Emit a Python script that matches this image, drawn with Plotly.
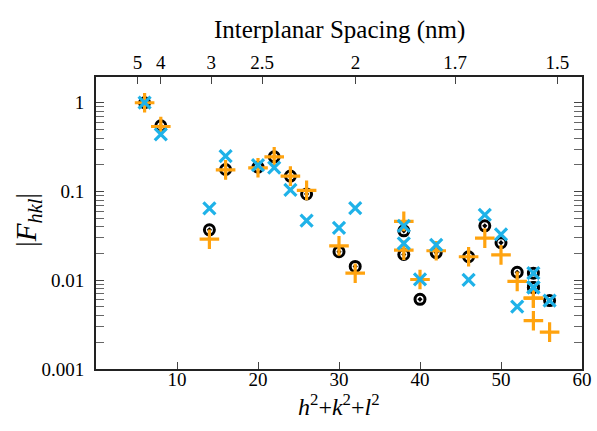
import plotly.graph_objects as go

# h^2+k^2+l^2 of each reflection
hkl_sum = [6, 8, 14, 16, 20, 22, 24, 26, 30, 32, 38, 38, 40, 42, 46, 48, 50, 52, 54, 54, 54, 56]

# |F_hkl| for the three data sets
f_black = [1.0, 0.55, 0.037, 0.177, 0.188, 0.246, 0.149, 0.094, 0.021, 0.0143, 0.036, 0.0195,
           0.0061, 0.0205, 0.0184, 0.041, 0.0265, 0.0123, 0.012, 0.0083, 0.0083, 0.0059]
f_orange = [1.0, 0.54, 0.029, 0.175, 0.185, 0.246, 0.149, 0.103, 0.0244, 0.012, 0.046, 0.0218,
            0.0102, 0.0215, 0.0184, 0.0298, 0.0193, 0.0097, 0.0063, 0.0063, 0.0035, 0.0026]
f_blue = [1.0, 0.44, 0.0645, 0.25, 0.198, 0.186, 0.104, 0.047, 0.039, 0.065, 0.041, 0.026,
          0.0102, 0.025, 0.0101, 0.0546, 0.0329, 0.00505, 0.012, 0.0083, 0.0083, 0.0059]

# top axis: interplanar spacing d = a / sqrt(h^2+k^2+l^2)
lattice_a = 11.32  # nm
d_ticks = [5, 4, 3, 2.5, 2, 1.7, 1.5]
d_labels = ["5", "4", "3", "2.5", "2", "1.7", "1.5"]

x_ticks = [10, 20, 30, 40, 50, 60]
y_ticks = [1, 0.1, 0.01, 0.001]
y_labels = ["1", "0.1", "0.01", "0.001"]

BLACK = "#000000"
ORANGE = "#FFA30F"
BLUE = "#1FB2E8"
FONT = "Liberation Serif"

fig = go.Figure()
fig.add_trace(go.Scatter(
    x=hkl_sum, y=f_black, mode="markers",
    marker=dict(symbol="circle-open-dot", size=10, color=BLACK, line=dict(width=3, color=BLACK)),
    showlegend=False))
fig.add_trace(go.Scatter(
    x=hkl_sum, y=f_orange, mode="markers",
    marker=dict(symbol="cross-thin", size=14, color=ORANGE, line=dict(width=3.2, color=ORANGE)),
    showlegend=False))
fig.add_trace(go.Scatter(
    x=hkl_sum, y=f_blue, mode="markers",
    marker=dict(symbol="x-thin", size=12, color=BLUE, line=dict(width=3.2, color=BLUE)),
    showlegend=False))
# empty trace to anchor the top axis
fig.add_trace(go.Scatter(x=[], y=[], xaxis="x2", yaxis="y", showlegend=False))

top_vals = [(lattice_a / d) ** 2 for d in d_ticks]

fig.update_layout(
    width=597, height=431,
    margin=dict(l=96, r=15, t=77, b=62),
    paper_bgcolor="white", plot_bgcolor="white",
    font=dict(family=FONT, size=19, color="black"),
    xaxis=dict(
        range=[0, 60], tickvals=x_ticks, automargin=False,
        ticks="inside", ticklen=7, tickwidth=1, tickcolor="#444",
        showline=True, linecolor="#222", linewidth=2, mirror=True,
        showgrid=False, zeroline=False, ticklabelstandoff=-8,
        tickfont=dict(family=FONT, size=19),
    ),
    xaxis2=dict(
        range=[0, 60], overlaying="x", side="top", automargin=False,
        tickvals=top_vals, ticktext=d_labels,
        ticks="inside", ticklen=7, tickwidth=1, tickcolor="#444",
        showline=False, showgrid=False, zeroline=False, ticklabelstandoff=3,
        tickfont=dict(family=FONT, size=19),
    ),
    yaxis=dict(
        type="log", range=[-3, 0.29], automargin=False,
        tickvals=y_ticks, ticktext=y_labels,
        ticks="inside", ticklen=8, tickwidth=1, tickcolor="#444",
        minor=dict(ticks="inside", ticklen=4, tickcolor="#666", dtick="D1", showgrid=False),
        showline=True, linecolor="#222", linewidth=2, mirror="allticks",
        showgrid=False, zeroline=False, ticklabelstandoff=6,
        tickfont=dict(family=FONT, size=19),
    ),
    annotations=[
        dict(text="Interplanar Spacing (nm)", xref="paper", yref="paper",
             x=0.5, y=1.16, xanchor="center", yanchor="middle", showarrow=False,
             font=dict(family=FONT, size=25)),
        dict(text="<i>h</i><sup>2</sup>+<i>k</i><sup>2</sup>+<i>l</i><sup>2</sup>",
             xref="paper", yref="paper", x=0.5, y=-0.122, xanchor="center", yanchor="middle",
             showarrow=False, font=dict(family=FONT, size=24)),
        dict(text="|<i>F</i><sub><i>hkl</i></sub>|", xref="paper", yref="paper",
             x=-0.14, y=0.51, xanchor="center", yanchor="middle", textangle=-90,
             showarrow=False, font=dict(family=FONT, size=29)),
    ],
)

fig.write_html("out.html", config={"displayModeBar": False},
               post_script="document.body.style.margin='0';")
